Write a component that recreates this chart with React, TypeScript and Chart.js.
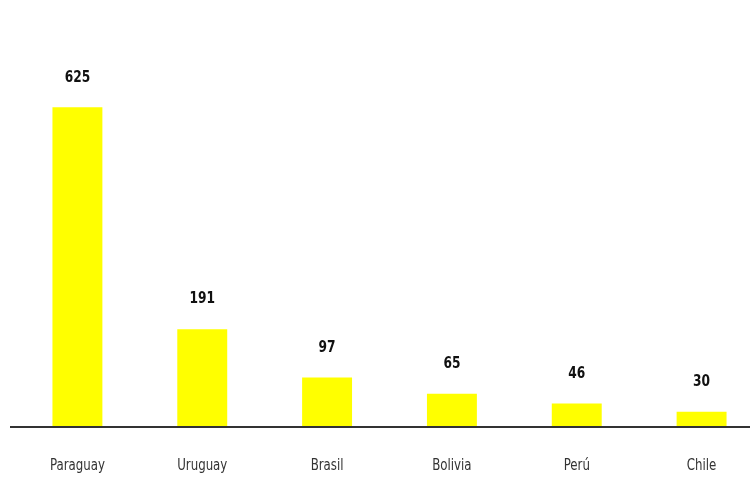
import React, { useEffect, useRef } from "react";
import { Chart, registerables } from "chart.js";

Chart.register(...registerables);

const categories = ["Paraguay", "Uruguay", "Brasil", "Bolivia", "Perú", "Chile"];
const values = [625, 191, 97, 65, 46, 30];
const yMax = 700;

const FONT = "'Liberation Sans Narrow', 'DejaVu Sans Condensed', sans-serif";

function squishText(ctx: any, text: string, x: number, y: number, sx: number) {
  ctx.save();
  ctx.translate(x, y);
  ctx.scale(sx, 1);
  ctx.fillText(text, 0, 0);
  ctx.restore();
}

const textPlugin = {
  id: "textPlugin",
  afterDraw(chart: any) {
    const ctx = chart.ctx;
    const meta = chart.getDatasetMeta(0);
    const xScale = chart.scales.x;
    const area = chart.chartArea;
    ctx.save();
    // axis line
    ctx.strokeStyle = "#333";
    ctx.lineWidth = 2;
    ctx.beginPath();
    ctx.moveTo(10, area.bottom);
    ctx.lineTo(chart.width, area.bottom);
    ctx.stroke();
    ctx.textAlign = "center";
    ctx.textBaseline = "middle";
    // value labels
    ctx.fillStyle = "#111";
    ctx.font = `bold 16px ${FONT}`;
    meta.data.forEach((bar: any, i: number) => {
      squishText(ctx, String(values[i]), bar.x, bar.y - 30, 0.85);
    });
    // category labels
    ctx.fillStyle = "#333";
    ctx.font = `16px ${FONT}`;
    categories.forEach((c, i) => {
      squishText(ctx, c, xScale.getPixelForValue(i), area.bottom + 39, 0.82);
    });
    ctx.restore();
  },
};

export default function App() {
  const ref = useRef<HTMLCanvasElement>(null);
  useEffect(() => {
    if (!ref.current) return;
    const chart = new Chart(ref.current, {
      type: "bar",
      data: {
        labels: categories,
        datasets: [
          {
            data: values,
            backgroundColor: "#ffff00",
            borderWidth: 0,
            barPercentage: 0.4,
            categoryPercentage: 1,
          },
        ],
      },
      options: {
        animation: false,
        responsive: true,
        maintainAspectRatio: false,
        layout: { padding: { left: 15, right: 1, top: 69, bottom: 0 } },
        plugins: { legend: { display: false }, tooltip: { enabled: false }, title: { display: false } },
        scales: {
          x: {
            grid: { display: false, drawTicks: false },
            border: { display: false },
            ticks: { display: false },
            afterFit: (scale: any) => {
              scale.height = 51;
            },
          },
          y: { display: false, min: 0, max: yMax },
        },
      },
      plugins: [textPlugin],
    });
    return () => chart.destroy();
  }, []);
  return (
    <div style={{ position: "fixed", left: 0, top: 0, width: 750, height: 478, overflow: "hidden", background: "#fff" }}>
      <div style={{ position: "relative", width: 765, height: 478 }}>
        <canvas ref={ref} />
      </div>
    </div>
  );
}
